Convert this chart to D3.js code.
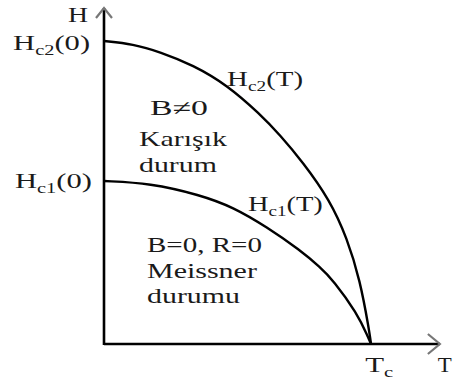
<!DOCTYPE html>
<html><head><meta charset="utf-8">
<script src="https://cdn.jsdelivr.net/npm/d3@7"></script>
<style>html,body{margin:0;padding:0;background:#fff;}svg{display:block;}</style>
</head><body>
<svg id="c" width="454" height="380"></svg>
<script>
// Data (normalised: T/Tc, H/Hc2(0))
const hc2T = [0, 0.109, 0.210, 0.333, 0.461, 0.584, 0.659, 0.745, 0.846, 0.910, 0.959, 0.993, 1];
const hc2H = [1, 0.990, 0.964, 0.921, 0.855, 0.759, 0.690, 0.600, 0.475, 0.350, 0.211, 0.046, 0];
const hc1T = [0, 0.172, 0.360, 0.483, 0.610, 0.734, 0.809, 0.858, 0.948, 0.989, 1];
const hc1H = [0.538, 0.531, 0.492, 0.452, 0.386, 0.310, 0.254, 0.211, 0.102, 0.023, 0];
const axisMax = {T: 1.258, H: 1.109};
// labels
const labelText = ["H", "H", "H", "H", "H", "B≠0", "Karışık", "durum", "B=0, R=0", "Meissner", "durumu", "T", "T"];
const labelSub  = ["", "c2", "c1", "c2", "c1", "", "", "", "", "", "", "c", ""];
const labelRest = ["", "(0)", "(0)", "(T)", "(T)", "", "", "", "", "", "", "", ""];
const labelT = [-0.06, -0.052, -0.045, 0.461, 0.539, 0.172, 0.131, 0.131, 0.161, 0.161, 0.161, 0.978, 1.25];
const labelH = [1.063, 0.970, 0.515, 0.851, 0.439, 0.756, 0.653, 0.568, 0.304, 0.218, 0.135, -0.092, -0.092];
const labelAnchor = ["end", "end", "end", "start", "start", "start", "start", "start", "start", "start", "start", "start", "start"];
const labelW = [20, 77, 77, 76, 75, 58, 88, 78, 115, 110, 93, 28, 14];

const svg = d3.select("#c");
const x = d3.scaleLinear().domain([0, 1]).range([104, 371]);
const y = d3.scaleLinear().domain([0, 1]).range([344, 41]);

// axes
svg.append("line").attr("x1", x(0)).attr("x2", x(axisMax.T)).attr("y1", y(0)).attr("y2", y(0))
  .attr("stroke", "#000").attr("stroke-width", 2.6);
svg.append("line").attr("x1", x(0)).attr("x2", x(0)).attr("y1", y(0) + 1).attr("y2", y(axisMax.H))
  .attr("stroke", "#000").attr("stroke-width", 2.6);
// arrowheads
const ax = x(axisMax.T), ay = y(0);
svg.append("path").attr("d", `M${ax-12},${ay-10}L${ax},${ay}L${ax-12},${ay+10}`)
  .attr("fill", "none").attr("stroke", "#777").attr("stroke-width", 2.2);
const bx = x(0), by = y(axisMax.H);
svg.append("path").attr("d", `M${bx-8},${by+10}L${bx},${by}L${bx+8},${by+10}`)
  .attr("fill", "none").attr("stroke", "#777").attr("stroke-width", 2.2);

const line = d3.line().x(d => x(d[0])).y(d => y(d[1])).curve(d3.curveBasis);
svg.append("path").datum(d3.zip(hc2T, hc2H)).attr("d", line)
  .attr("fill", "none").attr("stroke", "#000").attr("stroke-width", 2.4);
svg.append("path").datum(d3.zip(hc1T, hc1H)).attr("d", line)
  .attr("fill", "none").attr("stroke", "#000").attr("stroke-width", 2.4);

// labels
labelText.forEach((t, i) => {
  const g = svg.append("g");
  const txt = g.append("text").attr("font-size", 21).attr("fill", "#1a1a1a")
    .attr("font-family", "Liberation Serif")
    .style("font-family", "'Liberation Serif', 'Times New Roman', Times, serif");
  txt.append("tspan").text(t);
  if (labelSub[i]) txt.append("tspan").attr("font-size", 14).attr("dy", 5).text(labelSub[i]);
  if (labelRest[i]) txt.append("tspan").attr("dy", -5).text(labelRest[i]);
  const w = txt.node().getComputedTextLength();
  const s = labelW[i] / w;
  const px = x(labelT[i]), py = y(labelH[i]);
  const left = labelAnchor[i] === "end" ? px - labelW[i] : px;
  g.attr("transform", `translate(${left},${py}) scale(${s},1)`);
});
</script>
</body></html>
